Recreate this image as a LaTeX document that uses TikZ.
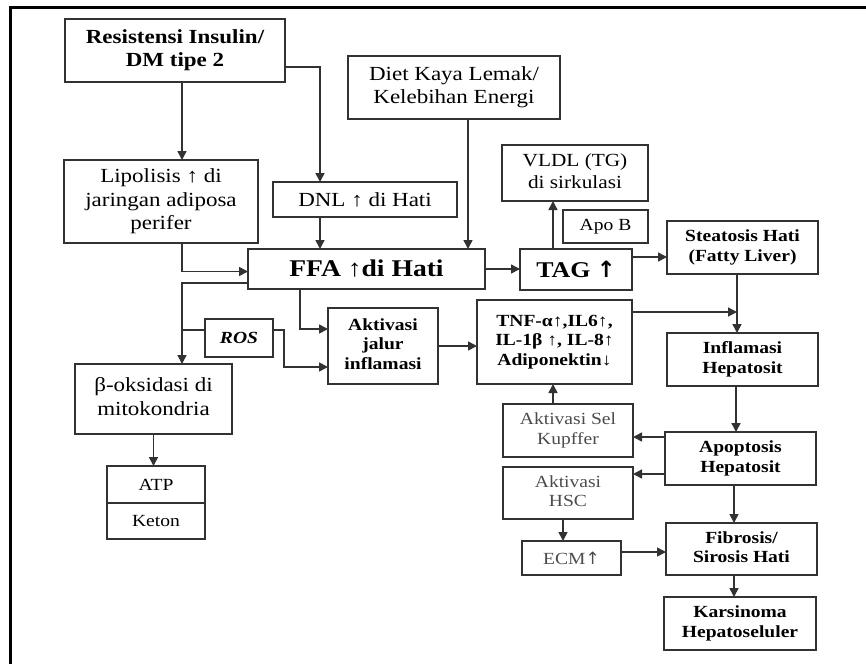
\documentclass[tikz,border=0pt]{standalone}
\usepackage{fontspec}
\setmainfont[FakeStretch=1.15]{Liberation Serif}
\newfontfamily\arrowfont{DejaVu Sans}
\usepackage{tikz}
\usetikzlibrary{arrows.meta,positioning}
\definecolor{boxgray}{RGB}{50,50,50}
\definecolor{softtext}{RGB}{75,75,75}
\tikzstyle{process} = [rectangle, draw=boxgray, line width=1.7pt, inner sep=0pt, outer sep=0pt, text centered, font=\fontsize{20}{23.5}\selectfont]
\tikzstyle{minor} = [process, font=\fontsize{17}{19.5}\selectfont]
\tikzstyle{stage} = [process, font=\bfseries\fontsize{17}{19.5}\selectfont]
\tikzstyle{arrow} = [line width=1.6pt, ->, >={Triangle[length=9pt,width=9pt]}, color=boxgray]
\tikzstyle{joint} = [line width=1.6pt, color=boxgray]

\begin{document}
\begin{tikzpicture}[x=1pt, y=-1pt]
\useasboundingbox (0,0) rectangle (866,664);
% frame
\draw[line width=3pt] (866,7) -- (10,7) -- (10,664);

% causes
\node (res) [process, font=\bfseries\fontsize{20}{23.5}\selectfont, minimum width=220pt, minimum height=63pt] at (175,50.5) {
\begin{tabular}{c}
Resistensi Insulin/\\
DM tipe 2
\end{tabular}
};

\node (lipo) [process, minimum width=194pt, minimum height=83pt] at (161,201.5) {
\begin{tabular}{c}
Lipolisis ↑ di\\
jaringan adiposa\\
perifer
\end{tabular}
};

\node (diet) [process, minimum width=212pt, minimum height=63pt] at (454,87.5) {
\begin{tabular}{c}
Diet Kaya Lemak/\\
Kelebihan Energi
\end{tabular}
};

\node (dnl) [process, minimum width=184pt, minimum height=35pt] at (365,199.5) {DNL ↑ di Hati};

\node (ffa) [process, font=\bfseries\fontsize{24}{28}\selectfont, minimum width=237pt, minimum height=40pt] at (366.5,269) {FFA ↑di Hati};

% liver fat
\node (tag) [process, font=\bfseries\fontsize{22.5}{26}\selectfont, minimum width=112pt, minimum height=41pt] at (576,269.5) {TAG {\arrowfont\bfseries ↑}};

\node (vldl) [process, font=\fontsize{18.5}{21.5}\selectfont, minimum width=146pt, minimum height=56pt] at (575,173) {
\begin{tabular}{c}
VLDL (TG)\\
di sirkulasi
\end{tabular}
};

\node (apob) [minor, minimum width=85pt, minimum height=33pt] at (605.5,226.5) {Apo B};

\node (steat) [stage, minimum width=151pt, minimum height=53pt] at (742.5,247.5) {
\begin{tabular}{c}
Steatosis Hati\\
(Fatty Liver)
\end{tabular}
};
\coordinate (stdrop) at ([xshift=-5.5pt]steat.south);

% inflammation
\node (akt) [stage, minimum width=110pt, minimum height=76pt] at (383,346) {
\begin{tabular}{c}
Aktivasi\\
jalur\\
inflamasi
\end{tabular}
};

\node (ros) [stage, font=\bfseries\itshape\fontsize{17}{19.5}\selectfont, minimum width=68pt, minimum height=38pt] at (239,338) {ROS};

\node (tnf) [stage, minimum width=155pt, minimum height=84pt] at (554.5,342) {
\begin{tabular}{c}
TNF-α↑,IL6↑,\\
IL-1β ↑, IL-8↑\\
Adiponektin↓
\end{tabular}
};

\node (infl) [stage, minimum width=151pt, minimum height=53pt] at (742.5,359.5) {
\begin{tabular}{c}
Inflamasi\\
Hepatosit
\end{tabular}
};

\node (apop) [stage, minimum width=151pt, minimum height=53pt] at (740.5,458.5) {
\begin{tabular}{c}
Apoptosis\\
Hepatosit
\end{tabular}
};

\node (kupf) [minor, text=softtext, minimum width=130pt, minimum height=53pt] at (568,430.5) {
\begin{tabular}{c}
Aktivasi Sel\\
Kupffer
\end{tabular}
};

\node (hsc) [minor, text=softtext, minimum width=130pt, minimum height=52pt] at (568,493) {
\begin{tabular}{c}
Aktivasi\\
HSC
\end{tabular}
};

\node (ecm) [minor, text=softtext, minimum width=99pt, minimum height=34pt] at (571.5,558) {ECM{\arrowfont ↑}};

\node (fibr) [stage, minimum width=151pt, minimum height=52pt] at (741.5,549) {
\begin{tabular}{c}
Fibrosis/\\
Sirosis Hati
\end{tabular}
};

\node (kars) [stage, minimum width=152pt, minimum height=53pt] at (740,623.5) {
\begin{tabular}{c}
Karsinoma\\
Hepatoseluler
\end{tabular}
};

% oxidation
\node (beta) [process, minimum width=157pt, minimum height=70pt] at (153.5,399) {
\begin{tabular}{c}
β-oksidasi di\\
mitokondria
\end{tabular}
};

\node (atp) [minor, minimum width=98pt, minimum height=37pt] at (156,484.5) {ATP};
\node (keton) [minor, minimum width=98pt, minimum height=36pt, below=0pt of atp] {Keton};

\coordinate (rosjoin) at (182,330);
\coordinate (rosbend) at (284,330);

% connectors
\draw[arrow] ([xshift=7pt]res.south) -- ([xshift=7pt]res.south |- lipo.north);
\draw[arrow] ([yshift=-16.5pt]res.east) -| ([xshift=-45pt]dnl.north);
\draw[arrow] ([xshift=-45pt]dnl.south) -- ([xshift=-45pt]dnl.south |- ffa.north);
\draw[arrow] ([xshift=14pt]diet.south) -- ([xshift=14pt]diet.south |- ffa.north);
\draw[arrow] ([xshift=21pt]lipo.south) |- ([yshift=-2.5pt]ffa.west);
\draw[arrow] ([yshift=-14pt]ffa.west) -| ([xshift=28.5pt]beta.north);
\draw[joint] (rosjoin) -- (rosjoin -| ros.west);
\draw[arrow] (rosbend -| ros.east) -- (rosbend) |- ([yshift=-21pt]akt.west);
\draw[arrow] ([xshift=-66.5pt]ffa.south) |- ([yshift=17pt]akt.west);
\draw[arrow] (akt.east) -- (akt.east -| tnf.west);
\draw[arrow] (ffa.east) -- (ffa.east -| tag.west);
\draw[arrow] ([xshift=-23pt]tag.north) -- ([xshift=-23pt]tag.north |- vldl.south);
\draw[arrow] ([yshift=12.5pt]tag.east) -- ([yshift=12.5pt]tag.east -| steat.west);
\draw[arrow] (stdrop) -- (stdrop |- infl.north);
\draw[arrow] ([yshift=30pt]tnf.east) -- ([yshift=30pt]tnf.east -| stdrop);
\draw[arrow] ([xshift=-6.5pt]infl.south) -- ([xshift=-6.5pt]infl.south |- apop.north);
\draw[arrow] ([yshift=21.5pt]apop.west) -- ([yshift=21.5pt]apop.west -| kupf.east);
\draw[arrow] ([yshift=-15.5pt]apop.west) -- ([yshift=-15.5pt]apop.west -| hsc.east);
\draw[arrow] ([xshift=-15pt]kupf.north) -- ([xshift=-15pt]kupf.north |- tnf.south);
\draw[arrow] ([xshift=-5pt]hsc.south) -- ([xshift=-5pt]hsc.south |- ecm.north);
\draw[arrow] ([xshift=-6.5pt]apop.south) -- ([xshift=-6.5pt]apop.south |- fibr.north);
\draw[arrow] ([yshift=6pt]ecm.east) -- ([yshift=6pt]ecm.east -| fibr.west);
\draw[arrow] ([xshift=-7.5pt]fibr.south) -- ([xshift=-7.5pt]fibr.south |- kars.north);
\draw[arrow] (beta.south) -- (beta.south |- atp.north);
\end{tikzpicture}
\end{document}
